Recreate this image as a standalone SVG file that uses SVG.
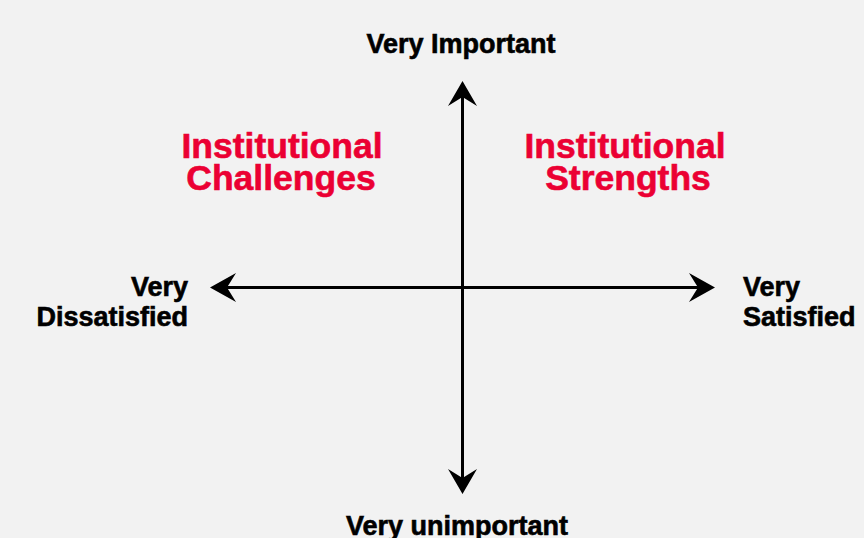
<svg xmlns="http://www.w3.org/2000/svg" width="864" height="538" viewBox="0 0 864 538">
  <style>
    .lbl { font-family: "Liberation Sans", Arial, Helvetica, sans-serif; font-weight: bold; fill: #000; stroke: #000; stroke-width: 0.6px; font-size: 27px; }
    .quad { font-family: "Liberation Sans", Arial, Helvetica, sans-serif; font-weight: bold; fill: #eb0033; stroke: #eb0033; stroke-width: 0.6px; font-size: 35.5px; }
    .axis { stroke: #000; stroke-width: 3; fill: none; }
    .head { fill: #000; stroke: none; }
  </style>
  <rect x="0" y="0" width="864" height="538" fill="#f2f2f2"/>

  <g id="connectors">
    <line class="axis" x1="462.5" y1="95" x2="462.5" y2="480"/>
    <line class="axis" x1="225" y1="287.5" x2="701" y2="287.5"/>
    <polygon class="head" points="462.5,81 477,106 462.5,97 448,106"/>
    <polygon class="head" points="462.5,494 477,469 462.5,478 448,469"/>
    <polygon class="head" points="210,287.5 236,273 227,287.5 236,302"/>
    <polygon class="head" points="715,287.5 689,273 698,287.5 689,302"/>
  </g>

  <g id="very-important">
    <text class="lbl" x="461" y="52.5" text-anchor="middle" font-size="27.5">Very Important</text>
  </g>
  <g id="very-unimportant">
    <text class="lbl" x="457" y="534.5" text-anchor="middle" font-size="27.5">Very unimportant</text>
  </g>
  <g id="very-dissatisfied">
    <text class="lbl" x="188" y="296" text-anchor="end">Very</text>
    <text class="lbl" x="188" y="326" text-anchor="end">Dissatisfied</text>
  </g>
  <g id="very-satisfied">
    <text class="lbl" x="743" y="296">Very</text>
    <text class="lbl" x="743" y="326">Satisfied</text>
  </g>
  <g id="institutional-challenges">
    <text class="quad" x="282" y="158" text-anchor="middle">Institutional</text>
    <text class="quad" x="281" y="190" text-anchor="middle">Challenges</text>
  </g>
  <g id="institutional-strengths">
    <text class="quad" x="625" y="158" text-anchor="middle">Institutional</text>
    <text class="quad" x="628" y="190" text-anchor="middle">Strengths</text>
  </g>
</svg>
